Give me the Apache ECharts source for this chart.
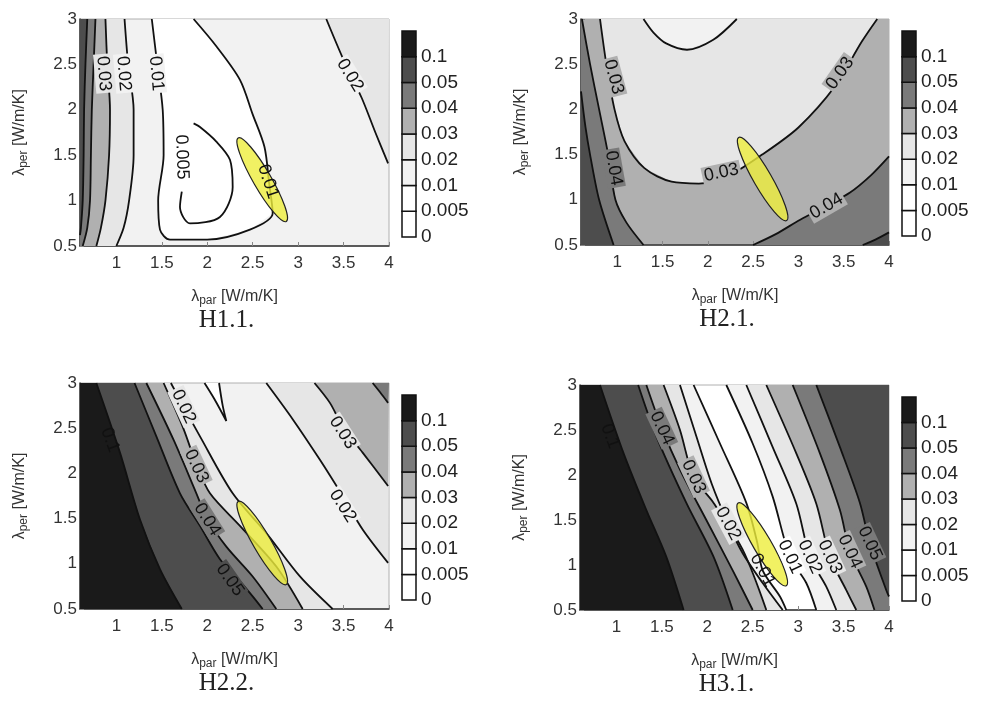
<!DOCTYPE html>
<html>
<head>
<meta charset="utf-8">
<title>contours</title>
<script src="https://cdn.jsdelivr.net/npm/echarts@6/dist/echarts.min.js"></script>
<style>
body{margin:0;background:#fff;}
#main{width:989px;height:720px;}
</style>
</head>
<body>
<div id="main"></div>
<script>
// colour bands, bottom (0) to top (>0.1)
var levels = ['0', '0.005', '0.01', '0.02', '0.03', '0.04', '0.05', '0.1'];
var bandColors = ['#ffffff', '#ffffff', '#f2f2f2', '#e6e6e6', '#b0b0b0', '#7a7a7a', '#4d4d4d', '#1a1a1a'];
var xTicks = [1, 1.5, 2, 2.5, 3, 3.5, 4];
var yTicks = [0.5, 1, 1.5, 2, 2.5, 3];
var titles = ['H1.1.', 'H2.1.', 'H2.2.', 'H3.1.'];
var ellipseEnds = [[2.34, 1.69], [2.87, 0.77]];

// H1.1 contour lines
var h11Lines = [
  [[0.68,3],[0.66,2.5],[0.645,2],[0.64,1.5],[0.63,1],[0.61,0.7],[0.6,0.62]],            // 0.05
  [[0.77,3],[0.75,2.5],[0.73,2],[0.72,1.5],[0.71,1],[0.68,0.7],[0.63,0.5]],             // 0.04
  [[0.88,3],[0.9,2.5],[0.93,2],[0.92,1.5],[0.88,1],[0.83,0.7],[0.78,0.5]],              // 0.03
  [[1.09,3],[1.13,2.5],[1.19,2],[1.19,1.5],[1.14,1],[1.08,0.7],[1.0,0.5]],              // 0.02
  [[1.39,3],[1.45,2.5],[1.51,2],[1.52,1.5],[1.46,1],[1.48,0.68],[1.59,0.57],[2.0,0.57],
   [2.47,0.68],[2.72,0.86],[2.68,1.2],[2.63,1.59],[2.5,1.95],[2.36,2.33],[2.1,2.7],[1.85,3]], // 0.01
  [[1.72,1.1],[1.7,0.93],[1.81,0.75],[2.14,0.82],[2.28,1.15],[2.25,1.45],[2.1,1.65],[1.92,1.81],[1.85,1.85]], // 0.005
  [[3.31,3],[3.5,2.55],[3.7,2.13],[3.85,1.75],[3.99,1.41]]                              // 0.02 right
];
var h11Fills = [
  {line: 4, corners: [], band: 1},
  {line: 3, corners: [[0.6,0.5],[0.6,3]], band: 3},
  {line: 2, corners: [[0.6,0.5],[0.6,3]], band: 4},
  {line: 1, corners: [[0.6,0.5],[0.6,3]], band: 5},
  {line: 0, corners: [[0.6,3]], band: 6},
  {line: 6, corners: [[4,3]], band: 3}
];
var h11Labels = [
  [0.86,2.4,'0.03',-85,3],[1.08,2.4,'0.02',-85,2],[1.44,2.4,'0.01',-85,2],
  [1.72,1.48,'0.005',-88,1],[2.67,1.21,'0.01',-72,-1],[3.57,2.38,'0.02',-58,2]
];

// H2.1 contour lines
var h21Lines = [
  [[0.6,2.2],[0.65,1.8],[0.7,1.5],[0.8,1.0],[0.96,0.5]],                                 // 0.05
  [[0.61,3],[0.7,2.5],[0.8,2.0],[0.9,1.5],[0.98,1.0],[1.1,0.75],[1.29,0.5]],             // 0.04
  [[0.81,3],[0.88,2.5],[0.97,2.0],[1.08,1.65],[1.3,1.35],[1.6,1.2],[1.9,1.18],[2.2,1.25],
   [2.6,1.5],[3.0,1.8],[3.4,2.25],[3.7,2.75],[3.87,3]],                                  // 0.03
  [[1.29,3],[1.4,2.85],[1.54,2.73],[1.77,2.66],[2.06,2.77],[2.32,3]],                    // 0.02
  [[2.5,0.5],[2.75,0.62],[3.02,0.78],[3.3,0.93],[3.57,1.08],[3.8,1.27],[4,1.48]],        // 0.04 right
  [[3.71,0.5],[3.85,0.56],[4,0.64]]                                                      // 0.05 right
];
var h21Fills = [
  {line: 2, corners: [], band: 3},
  {line: 3, corners: [], band: 2},
  {line: 1, corners: [[0.6,0.5],[0.6,3]], band: 5},
  {line: 0, corners: [[0.6,0.5]], band: 6},
  {line: 4, corners: [[4,0.5]], band: 5},
  {line: 5, corners: [[4,0.5]], band: 6}
];
var h21Labels = [
  [0.96,2.36,'0.03',-75,4],[0.96,1.35,'0.04',-80,5],[2.15,1.3,'0.03',12,4],
  [3.46,2.4,'0.03',55,4],[3.31,0.93,'0.04',30,4]
];

// H2.2 contour lines
var h22Lines = [
  [[0.78,3],[1.04,2.23],[1.26,1.49],[1.48,0.94],[1.72,0.5]],                             // 0.1
  [[1.2,3],[1.44,2.41],[1.7,1.78],[1.92,1.42],[2.14,1.05],[2.35,0.82],[2.5,0.64],[2.61,0.5]], // 0.05
  [[1.33,3],[1.63,2.37],[1.88,1.78],[2.0,1.5],[2.21,1.19],[2.5,0.86],[2.76,0.5]],        // 0.04
  [[1.52,3],[1.74,2.49],[1.88,2.1],[2.03,1.78],[2.36,1.42],[2.76,0.97],[3.05,0.5]],      // 0.03
  [[1.6,3],[1.75,2.72],[1.92,2.41],[2.28,1.78],[2.65,1.34],[3.02,0.86],[3.38,0.5]],      // 0.02
  [[1.97,3],[2.08,2.82],[2.21,2.58],[2.17,2.75],[2.13,3]],                               // 0.01
  [[2.65,3],[2.94,2.6],[3.24,2.15],[3.49,1.75],[3.71,1.38],[3.99,1.01]],                 // 0.02 right
  [[3.18,3],[3.35,2.78],[3.5,2.5],[3.71,2.23],[3.99,1.86]],                              // 0.03 right
  [[3.82,3],[3.9,2.9],[3.99,2.78]]                                                       // 0.04 right
];
var h22Fills = [
  {line: 6, corners: [[4,3]], band: 3},
  {line: 7, corners: [[4,3]], band: 4},
  {line: 8, corners: [[4,3]], band: 5},
  {line: 4, corners: [[0.6,0.5],[0.6,3]], band: 3},
  {line: 3, corners: [[0.6,0.5],[0.6,3]], band: 4},
  {line: 2, corners: [[0.6,0.5],[0.6,3]], band: 5},
  {line: 1, corners: [[0.6,0.5],[0.6,3]], band: 6},
  {line: 0, corners: [[0.6,0.5],[0.6,3]], band: 7},
  {line: 5, corners: [], band: 1}
];
var h22Labels = [
  [0.93,2.37,'0.1',-70,-1],[1.74,2.74,'0.02',-65,3],[1.88,2.08,'0.03',-65,4],
  [2.0,1.49,'0.04',-58,5],[2.25,0.82,'0.05',-55,6],[3.49,2.45,'0.03',-57,3],[3.49,1.64,'0.02',-57,2]
];

// H3.1 contour lines
var h31Lines = [
  [[0.82,3],[1.08,2.24],[1.33,1.61],[1.55,1.09],[1.74,0.5]],                             // 0.1
  [[1.24,3],[1.44,2.43],[1.77,1.69],[2.07,1.09],[2.28,0.5]],                             // 0.05
  [[1.33,3],[1.5,2.52],[1.7,2.06],[1.99,1.5],[2.28,0.94],[2.5,0.5]],                     // 0.04
  [[1.52,3],[1.7,2.5],[1.85,1.98],[2.07,1.69],[2.39,1.17],[2.65,0.5]],                   // 0.03
  [[1.7,3],[1.88,2.43],[2.05,1.9],[2.23,1.46],[2.39,1.13],[2.61,0.8],[2.83,0.5]],        // 0.02
  [[1.85,3],[2.14,2.35],[2.43,1.69],[2.55,1.25],[2.61,0.94],[2.8,0.65],[2.87,0.5]],      // 0.01
  [[2.21,3],[2.5,2.35],[2.72,1.76],[2.91,1.09],[3.09,0.8],[3.2,0.5]],                    // 0.01 right
  [[2.43,3],[2.72,2.31],[2.98,1.68],[3.13,1.09],[3.31,0.76],[3.42,0.5]],                 // 0.02 right
  [[2.65,3],[2.98,2.24],[3.2,1.68],[3.35,1.09],[3.53,0.72],[3.64,0.5]],                  // 0.03 right
  [[2.94,3],[3.24,2.24],[3.46,1.61],[3.57,1.15],[3.75,0.76],[3.84,0.5]],                 // 0.04 right
  [[3.2,3],[3.46,2.31],[3.68,1.69],[3.79,1.24],[3.97,0.72],[4,0.65]]                     // 0.05 right
];
var h31Fills = [
  {line: 6, corners: [[4,0.5],[4,3]], band: 2},
  {line: 7, corners: [[4,0.5],[4,3]], band: 3},
  {line: 8, corners: [[4,0.5],[4,3]], band: 4},
  {line: 9, corners: [[4,0.5],[4,3]], band: 5},
  {line: 10, corners: [[4,3]], band: 6},
  {line: 5, corners: [[0.6,0.5],[0.6,3]], band: 2},
  {line: 4, corners: [[0.6,0.5],[0.6,3]], band: 3},
  {line: 3, corners: [[0.6,0.5],[0.6,3]], band: 4},
  {line: 2, corners: [[0.6,0.5],[0.6,3]], band: 5},
  {line: 1, corners: [[0.6,0.5],[0.6,3]], band: 6},
  {line: 0, corners: [[0.6,0.5],[0.6,3]], band: 7}
];
var h31Labels = [
  [0.93,2.43,'0.1',-70,-1],[1.5,2.52,'0.04',-65,5],[1.85,1.98,'0.03',-65,4],
  [2.23,1.46,'0.02',-62,3],[2.61,0.94,'0.01',-62,-1],[2.91,1.09,'0.01',-65,1],
  [3.13,1.09,'0.02',-65,2],[3.35,1.09,'0.03',-65,3],[3.57,1.15,'0.04',-65,4],[3.79,1.24,'0.05',-65,5]
];

var panels = [
  {lines: h11Lines, fills: h11Fills, labels: h11Labels, bg: 2, grid: [80, 19, 309, 227]},
  {lines: h21Lines, fills: h21Fills, labels: h21Labels, bg: 4, grid: [581, 19, 308, 226]},
  {lines: h22Lines, fills: h22Fills, labels: h22Labels, bg: 2, grid: [80, 383, 309, 226]},
  {lines: h31Lines, fills: h31Fills, labels: h31Labels, bg: 0, grid: [580, 385, 309, 225]}
];

var FONT = 'Liberation Sans, Arial, sans-serif';
var grids = [], xAxes = [], yAxes = [], series = [], graphics = [];
var nameRich = {l: {fontSize: 16, fontFamily: FONT, color: '#333'},
  s: {fontSize: 12, fontFamily: FONT, color: '#333', padding: [9, 0, 0, 0]}};

panels.forEach(function (p, i) {
  var g = p.grid;
  grids.push({left: g[0], top: g[1], width: g[2], height: g[3], show: true,
    backgroundColor: bandColors[p.bg], borderColor: '#b0b0b0', borderWidth: 1});
  xAxes.push({type: 'value', gridIndex: i, min: 0.6, max: 4,
    name: '{l|λ}{s|par}{l| [W/m/K]}', nameLocation: 'middle', nameGap: 40,
    nameTextStyle: {rich: nameRich},
    axisLine: {lineStyle: {color: '#333', width: 1.5}},
    axisTick: {inside: true, length: 4, lineStyle: {color: '#888'}, customValues: xTicks},
    axisLabel: {fontSize: 17, fontFamily: FONT, color: '#333', customValues: xTicks, margin: 9},
    splitLine: {show: false}});
  yAxes.push({type: 'value', gridIndex: i, min: 0.5, max: 3,
    name: '{l|λ}{s|per}{l| [W/m/K]}', nameLocation: 'middle', nameGap: 50, nameRotate: 90,
    nameTextStyle: {rich: nameRich},
    axisLine: {lineStyle: {color: '#333', width: 1.5}},
    axisTick: {inside: true, length: 4, lineStyle: {color: '#888'}, customValues: yTicks},
    axisLabel: {fontSize: 17, fontFamily: FONT, color: '#333', customValues: yTicks, margin: 3},
    splitLine: {show: false}});

  // filled bands
  series.push({type: 'custom', xAxisIndex: i, yAxisIndex: i, z: 1, silent: true, clip: true,
    data: p.fills.map(function (f, k) { return [k]; }),
    renderItem: function (params, api) {
      var f = p.fills[params.dataIndex];
      var pts = p.lines[f.line].concat(f.corners).map(function (d) { return api.coord(d); });
      return {type: 'polygon', shape: {points: pts}, style: {fill: bandColors[f.band]}};
    }});

  // contour lines
  p.lines.forEach(function (ln) {
    series.push({type: 'line', xAxisIndex: i, yAxisIndex: i, z: 2, silent: true,
      data: ln, showSymbol: false, smooth: 0.3, lineStyle: {color: '#111', width: 1.8}});
  });

  // ellipse
  series.push({type: 'custom', xAxisIndex: i, yAxisIndex: i, z: 3, silent: true,
    data: [[0]],
    renderItem: function (params, api) {
      var a = api.coord(ellipseEnds[0]), b = api.coord(ellipseEnds[1]);
      var dx = b[0] - a[0], dy = b[1] - a[1];
      return {type: 'ellipse', x: (a[0] + b[0]) / 2, y: (a[1] + b[1]) / 2,
        rotation: -Math.atan2(dy, dx),
        shape: {cx: 0, cy: 0, rx: Math.sqrt(dx * dx + dy * dy) / 2, ry: 9},
        style: {fill: 'rgba(238,238,60,0.8)', stroke: '#222', lineWidth: 1.2}};
    }});

  // contour labels
  series.push({type: 'custom', xAxisIndex: i, yAxisIndex: i, z: 4, silent: true,
    data: p.labels.map(function (l, k) { return [k]; }),
    renderItem: function (params, api) {
      var l = p.labels[params.dataIndex];
      var c = api.coord([l[0], l[1]]);
      var st = {text: l[2], fill: '#111', fontSize: 18, fontFamily: FONT, align: 'center', verticalAlign: 'middle'};
      if (l[4] >= 0) { st.backgroundColor = bandColors[l[4]]; st.padding = [0, 2]; }
      return {type: 'text', x: c[0], y: c[1], rotation: l[3] * Math.PI / 180, style: st};
    }});

  // colour bar
  var bx = g[0] + g[2] + 13, by = g[1] + 12, bh = g[3] - 21, seg = bh / levels.length;
  for (var k = 0; k < levels.length; k++) {
    var top = by + (levels.length - 1 - k) * seg;
    graphics.push({type: 'rect', shape: {x: bx, y: top, width: 14, height: seg},
      style: {fill: bandColors[k], stroke: '#111', lineWidth: 1.5}});
    graphics.push({type: 'text', x: bx + 19, y: top + seg,
      style: {text: levels[k], fontSize: 19, fontFamily: FONT, fill: '#222', verticalAlign: 'middle'}});
  }
  graphics.push({type: 'text', x: g[0] + g[2] / 2 - 8, y: g[1] + g[3] + 74,
    style: {text: titles[i], fontSize: 25, fontFamily: 'Liberation Serif, Times New Roman, serif',
      fill: '#222', align: 'center', verticalAlign: 'middle'}});
});

var chart = echarts.init(document.getElementById('main'));
chart.setOption({animation: false, grid: grids, xAxis: xAxes, yAxis: yAxes, series: series, graphic: graphics});
</script>
</body>
</html>
